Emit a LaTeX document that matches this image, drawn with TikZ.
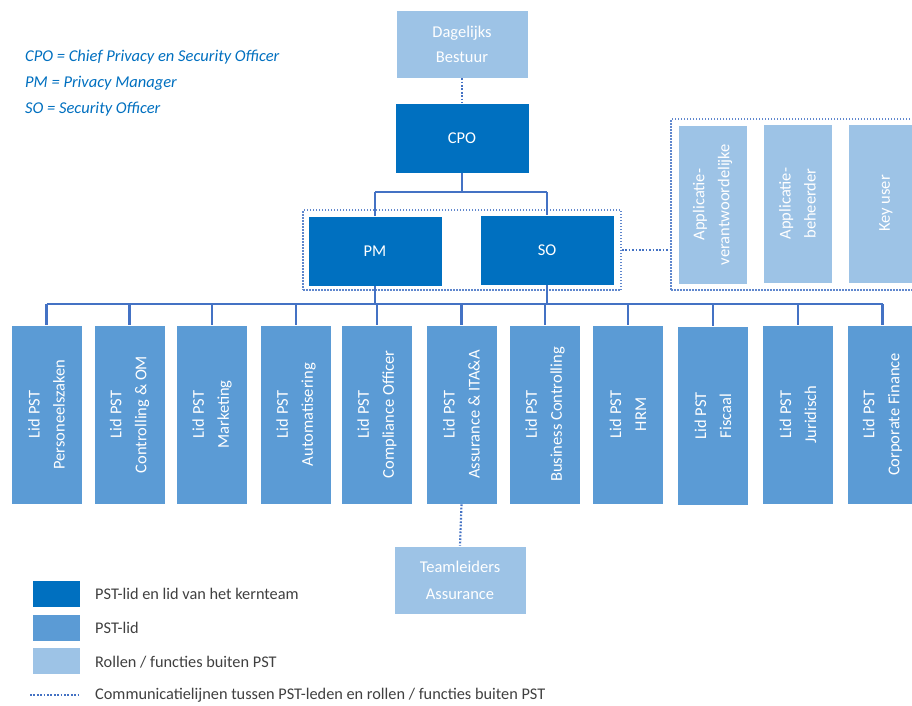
\documentclass[tikz,border=0pt]{standalone}
\usepackage{fontspec}
\setmainfont{Carlito}
\definecolor{dk}{HTML}{0070C0}
\definecolor{md}{HTML}{5B9BD5}
\definecolor{lt}{HTML}{9DC3E6}
\definecolor{ln}{HTML}{4472C4}
\definecolor{gt}{HTML}{404040}
\tikzset{
  fnt/.style={font=\fontsize{16.5}{25}\selectfont},
  darkbox/.style={fill=dk, draw=white, line width=0.6pt, text=white, fnt, inner sep=0pt},
  midbox/.style={fill=md, draw=white, line width=0.6pt, text=white, fnt, inner sep=0pt},
  lightbox/.style={fill=lt, draw=white, line width=0.6pt, text=white, fnt, inner sep=0pt, align=center},
  lidbox/.style={midbox, minimum width=71pt, minimum height=179pt},
  vtext/.style={rotate=90, align=center, text=white, fnt, inner sep=0pt},
  conn/.style={draw=ln, line width=2.2pt},
  comm/.style={draw=ln, line width=2.2pt, dash pattern=on 1.7pt off 1.7pt},
  grp/.style={draw=ln!85, line width=1.8pt, dash pattern=on 1.5pt off 1.5pt},
  abbr/.style={text=dk, font=\fontsize{16.5}{18}\selectfont\itshape, anchor=west, inner sep=0pt},
  leg/.style={text=gt, font=\fontsize{16.3}{18}\selectfont, anchor=west, inner sep=0pt},
}
\begin{document}
\begin{tikzpicture}[x=1pt,y=-1pt]
\useasboundingbox (0,0) rectangle (912,706);
\fill[white] (0,0) rectangle (912,706);

% abbreviations
\node[abbr] (a1) at (25,57) {CPO = Chief Privacy en Security Officer};
\node[abbr] (a2) at (25,83) {PM = Privacy Manager};
\node[abbr] (a3) at (25,109) {SO = Security Officer};

% group boxes
\node[grp, minimum width=318pt, minimum height=80pt, inner sep=0pt] (g1) at (462,250) {};
\node[grp, minimum width=250pt, minimum height=171pt, inner sep=0pt] (g2) at (796,204.5) {};

% top
\node[lightbox, minimum width=132pt, minimum height=68pt] (db) at (462,44) {Dagelijks\\Bestuur};
\node[darkbox, minimum width=134pt, minimum height=70pt] (cpo) at (462,138) {CPO};
\node[darkbox, minimum width=134pt, minimum height=70pt] (pm) at (375,251) {PM};
\node[darkbox, minimum width=134pt, minimum height=70pt] (so) at (547,250) {SO};

% right roles
\node[lightbox, minimum width=69pt, minimum height=159pt] (av) at (712.5,204.5) {};
\node[vtext] (avt) at (av) {Applicatie-\\verantwoordelijke};
\node[lightbox, minimum width=69pt, minimum height=159pt] (ab) at (797.5,203.5) {};
\node[vtext] (abt) at (ab) {Applicatie-\\beheerder};
\node[lightbox, minimum width=69pt, minimum height=159pt] (ku) at (882.5,203.5) {};
\node[vtext] (kut) at (886,203.5) {Key user};

% bottom boxes
\node[lidbox] (b1) at (46.5,414.5) {};
\node[lidbox] (b2) at (129.5,414.5) {};
\node[lidbox] (b3) at (212,414.5) {};
\node[lidbox] (b4) at (296,414.5) {};
\node[lidbox] (b5) at (377,414.5) {};
\node[lidbox] (b6) at (461.5,414.5) {};
\node[lidbox] (b7) at (545,414.5) {};
\node[lidbox] (b8) at (628,414.5) {};
\node[lidbox] (b9) at (713,416) {};
\node[lidbox] (b10) at (798,414.5) {};
\node[lidbox] (b11) at (882.5,414.5) {};
\node[vtext] (t1) at (b1) {Lid PST\\Personeelszaken};
\node[vtext] (t2) at (b2) {Lid PST\\Controlling \& OM};
\node[vtext] (t3) at (b3) {Lid PST\\Marketing};
\node[vtext] (t4) at (b4) {Lid PST\\Automatisering};
\node[vtext] (t5) at (b5) {Lid PST\\Compliance Officer};
\node[vtext] (t6) at (b6) {Lid PST\\Assurance \& ITA\&A};
\node[vtext] (t7) at (b7) {Lid PST\\Business Controlling};
\node[vtext] (t8) at (b8) {Lid PST\\HRM};
\node[vtext] (t9) at (b9) {Lid PST\\Fiscaal};
\node[vtext] (t10) at (b10) {Lid PST\\Juridisch};
\node[vtext] (t11) at (b11) {Lid PST\\Corporate Finance};

\node[lightbox, minimum width=132pt, minimum height=68pt, font=\fontsize{16.5}{27}\selectfont] (tl) at (460,580) {Teamleiders\\Assurance};

% connectors
\coordinate (cb) at (462,192);
\coordinate (bus) at (0,304);
\draw[conn] (cpo.south) -- (cb);
\draw[conn] (pm.north |- cb) -- (so.north |- cb);
\draw[conn] (pm.north |- cb) -- (pm.north);
\draw[conn] (so.north |- cb) -- (so.north);
\draw[conn] (pm.south) -- (pm.south |- bus);
\draw[conn] (so.south) -- (so.south |- bus);
\draw[conn] (b1.north |- bus) -- (b11.north |- bus);
\foreach \b in {b1,b2,b3,b4,b5,b6,b7,b8,b9,b10,b11}{
  \draw[conn] (\b.north |- bus) -- (\b.north);
}
\draw[comm] (db.south) -- (cpo.north);
\draw[comm] (g1.east) -- (g2.west |- g1.east);
\draw[comm] (b6.south) -- (tl.north);

% legend
\node[darkbox, minimum width=48pt, minimum height=27pt] (l1) at (56,594) {};
\node[midbox, minimum width=48pt, minimum height=27pt] (l2) at (56,627.5) {};
\node[lightbox, minimum width=48pt, minimum height=27pt] (l3) at (56,661) {};
\coordinate (l4a) at (30,695);
\coordinate (l4b) at (80,695);
\draw[comm] (l4a) -- (l4b);
\node[leg] (lt1) at (95,594) {PST-lid en lid van het kernteam};
\node[leg] (lt2) at (95,628) {PST-lid};
\node[leg] (lt3) at (95,662) {Rollen / functies buiten PST};
\node[leg] (lt4) at (95,695) {Communicatielijnen tussen PST-leden en rollen / functies buiten PST};
\end{tikzpicture}
\end{document}
